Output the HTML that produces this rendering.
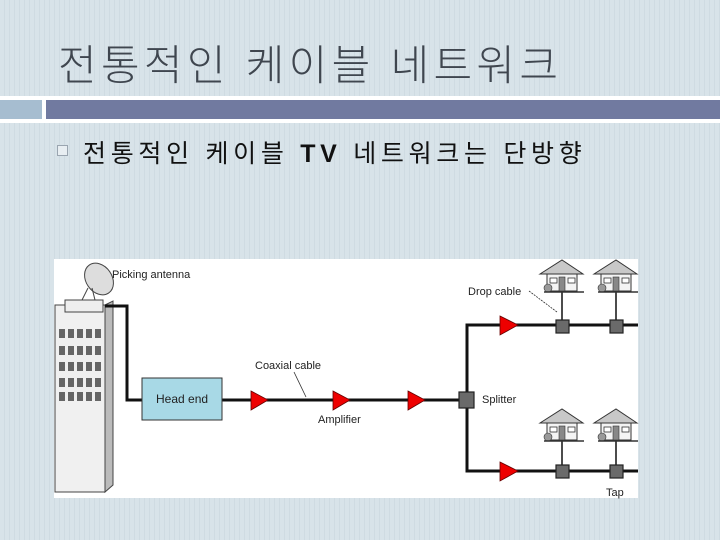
<!DOCTYPE html>
<html><head><meta charset="utf-8"><style>
body{margin:0;width:720px;height:540px;overflow:hidden;font-family:"Liberation Sans","Noto Sans CJK KR",sans-serif;
background:repeating-linear-gradient(90deg,#d8e3e9 0 4px,#cfdbe2 4px 5px);position:relative}
.t{position:absolute;left:58px;top:32px;font-size:42px;color:#3f464f;letter-spacing:4.3px;font-weight:300;white-space:nowrap}
.wl{position:absolute;left:0;top:96px;width:720px;height:27px;background:#fff}
.b1{position:absolute;left:0;top:100px;width:42px;height:19px;background:#a6bdd0}
.b2{position:absolute;left:46px;top:100px;width:674px;height:19px;background:#717aa0}
.bul{position:absolute;left:57px;top:145px;width:9px;height:9px;border:1px solid #9aa5b0;background:#e8eef2}
.s{position:absolute;left:83px;top:134px;font-size:25px;color:#111;letter-spacing:4.7px;white-space:nowrap;font-weight:400}
.s b{font-weight:700}
svg{position:absolute;left:0;top:0}
</style></head><body>
<div class="t">전통적인 케이블 네트워크</div>
<div class="wl"></div><div class="b1"></div><div class="b2"></div>
<div class="bul"></div>
<div class="s">전통적인 케이블 <b>TV</b> 네트워크는 단방향</div>
<svg width="720" height="540" font-family="Liberation Sans, sans-serif">
<defs>
<g id="h">
<polygon points="-22,14 0,0 21,14" fill="#c8c8c8" stroke="#333" stroke-width="1"/>
<rect x="-15" y="14" width="30" height="17" fill="#f4f4f4" stroke="#333" stroke-width="1"/>
<rect x="-3" y="17" width="6" height="14" fill="#888" stroke="#333" stroke-width=".6"/>
<rect x="-12" y="18" width="7" height="5" fill="#fff" stroke="#333" stroke-width=".8"/>
<rect x="6" y="18" width="7" height="5" fill="#fff" stroke="#333" stroke-width=".8"/>
<circle cx="-14" cy="28" r="4" fill="#999" stroke="#333" stroke-width=".6"/>
<line x1="-18" y1="32" x2="22" y2="32" stroke="#333" stroke-width="1.5"/>
</g>
</defs>
<rect x="54" y="259" width="584" height="239" fill="#fff"/>
<rect x="55" y="305" width="50" height="187" fill="#f0f0f0" stroke="#444"/>
<polygon points="105,305 113,301 113,485 105,492" fill="#bbb" stroke="#444"/>
<rect x="65" y="300" width="38" height="12" fill="#eee" stroke="#444"/>
<g fill="#666">
<rect x="59" y="329" width="6" height="9"/><rect x="68" y="329" width="6" height="9"/><rect x="77" y="329" width="6" height="9"/><rect x="86" y="329" width="6" height="9"/><rect x="95" y="329" width="6" height="9"/>
<rect x="59" y="346" width="6" height="9"/><rect x="68" y="346" width="6" height="9"/><rect x="77" y="346" width="6" height="9"/><rect x="86" y="346" width="6" height="9"/><rect x="95" y="346" width="6" height="9"/>
<rect x="59" y="362" width="6" height="9"/><rect x="68" y="362" width="6" height="9"/><rect x="77" y="362" width="6" height="9"/><rect x="86" y="362" width="6" height="9"/><rect x="95" y="362" width="6" height="9"/>
<rect x="59" y="378" width="6" height="9"/><rect x="68" y="378" width="6" height="9"/><rect x="77" y="378" width="6" height="9"/><rect x="86" y="378" width="6" height="9"/><rect x="95" y="378" width="6" height="9"/>
<rect x="59" y="392" width="6" height="9"/><rect x="68" y="392" width="6" height="9"/><rect x="77" y="392" width="6" height="9"/><rect x="86" y="392" width="6" height="9"/><rect x="95" y="392" width="6" height="9"/>
</g>
<ellipse cx="99" cy="279" rx="13" ry="17" transform="rotate(-35 99 279)" fill="#ddd" stroke="#444"/>
<line x1="88" y1="288" x2="82" y2="300" stroke="#444"/><line x1="92" y1="288" x2="95" y2="300" stroke="#444"/>
<text x="112" y="278" font-size="11" fill="#222">Picking antenna</text>
<g stroke="#111" stroke-width="3" fill="none">
<polyline points="105,306 127,306 127,400 142,400"/>
<line x1="222" y1="400" x2="467" y2="400"/>
<polyline points="638,325 467,325 467,471 638,471"/>
</g>
<g stroke="#111" stroke-width="1.5">
<line x1="562" y1="292" x2="562" y2="325"/><line x1="616" y1="292" x2="616" y2="325"/>
<line x1="562" y1="425" x2="562" y2="471"/><line x1="616" y1="425" x2="616" y2="471"/>
</g>
<rect x="142" y="378" width="80" height="42" fill="#a8d9e6" stroke="#333"/>
<text x="156" y="403" font-size="12" fill="#222">Head end</text>
<g fill="#e00" stroke="#600" stroke-width=".8">
<polygon points="251,391 268,400 251,410"/>
<polygon points="333,391 350,400 333,410"/>
<polygon points="408,391 425,400 408,410"/>
<polygon points="500,316 518,325 500,335"/>
<polygon points="500,462 518,471 500,481"/>
</g>
<g fill="#6a6a6a" stroke="#222" stroke-width="1.2">
<rect x="459" y="392" width="15" height="16"/>
<rect x="556" y="320" width="13" height="13"/><rect x="610" y="320" width="13" height="13"/>
<rect x="556" y="465" width="13" height="13"/><rect x="610" y="465" width="13" height="13"/>
</g>
<use href="#h" x="562" y="260"/><use href="#h" x="616" y="260"/>
<use href="#h" x="562" y="409"/><use href="#h" x="616" y="409"/>
<line x1="294" y1="372" x2="306" y2="397" stroke="#333" stroke-width=".8"/>
<line x1="529" y1="291" x2="557" y2="312" stroke="#333" stroke-width=".8" stroke-dasharray="2,1"/>
<g font-size="11" fill="#222">
<text x="255" y="369">Coaxial cable</text>
<text x="318" y="423">Amplifier</text>
<text x="482" y="403">Splitter</text>
<text x="468" y="295">Drop cable</text>
<text x="606" y="496">Tap</text>
</g>
</svg>
</body></html>
